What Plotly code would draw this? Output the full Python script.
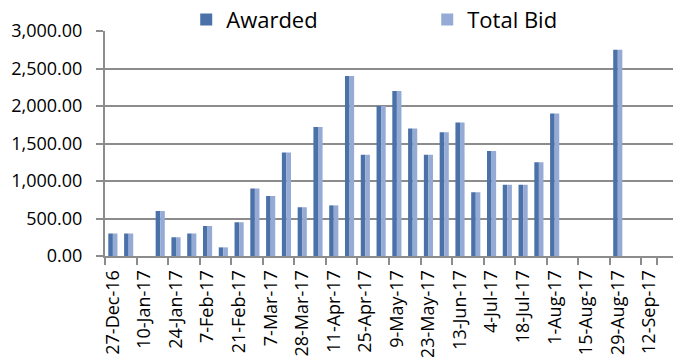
import plotly.graph_objects as go

# Auction dates (category axis) and amounts
dates = [
    "27-Dec-16", "3-Jan-17", "10-Jan-17", "17-Jan-17", "24-Jan-17", "31-Jan-17",
    "7-Feb-17", "14-Feb-17", "21-Feb-17", "28-Feb-17", "7-Mar-17", "14-Mar-17",
    "28-Mar-17", "4-Apr-17", "11-Apr-17", "18-Apr-17", "25-Apr-17", "2-May-17",
    "9-May-17", "16-May-17", "23-May-17", "30-May-17", "13-Jun-17", "20-Jun-17",
    "4-Jul-17", "11-Jul-17", "18-Jul-17", "25-Jul-17", "1-Aug-17", "8-Aug-17",
    "15-Aug-17", "22-Aug-17", "29-Aug-17", "5-Sep-17", "12-Sep-17", "19-Sep-17",
]
awarded = [
    300, 300, None, 600, 250, 300, 400, 115, 450, 900, 800, 1380,
    650, 1720, 675, 2400, 1350, 2000, 2200, 1700, 1350, 1650, 1780, 850,
    1400, 950, 950, 1250, 1900, None, None, None, 2750, None, None, None,
]
total_bid = list(awarded)

shown_ticks = dates[::2]
y_ticks = [0, 500, 1000, 1500, 2000, 2500, 3000]

font = "'Open Sans', sans-serif"
dark = "#4A72A9"
light = "#95ABD5"
grid = "#8C8C8C"

fig = go.Figure()
fig.add_trace(go.Bar(x=dates, y=awarded, name="Awarded",
                     marker=dict(color=dark, line=dict(width=0))))
fig.add_trace(go.Bar(x=dates, y=total_bid, name="Total Bid",
                     marker=dict(color=light, line=dict(width=0))))

fig.update_layout(
    width=685, height=357,
    margin=dict(l=105, r=12, t=31, b=101, autoexpand=False),
    paper_bgcolor="white", plot_bgcolor="white",
    barmode="group", bargap=0.42, bargroupgap=0,
    font=dict(family=font, color="#000000"),
    legend=dict(
        orientation="h", x=0.143, xanchor="left", y=1.05, yanchor="middle",
        font=dict(family=font, size=22, color="#000000"),
        bgcolor="rgba(0,0,0,0)", entrywidth=196, entrywidthmode="pixels",
    ),
    xaxis=dict(
        type="category", categoryorder="array", categoryarray=dates,
        tickmode="array", tickvals=shown_ticks, ticktext=shown_ticks,
        tickangle=-90, tickfont=dict(size=18, family=font, color="#000000"),
        ticklabelstandoff=5,
        showline=True, linecolor=grid, linewidth=2,
        ticks="outside", ticklen=7, tickcolor=grid, tickwidth=2,
        tickson="boundaries", showgrid=False,
        range=[-0.5, len(dates) - 0.5],
    ),
    yaxis=dict(
        range=[0, 3000], tickvals=y_ticks, tickformat=",.2f",
        tickfont=dict(size=18, family=font, color="#000000"),
        ticklabelstandoff=10,
        showgrid=True, gridcolor=grid, gridwidth=2,
        showline=True, linecolor=grid, linewidth=2,
        ticks="outside", ticklen=7, tickcolor=grid, tickwidth=2,
        zeroline=False,
    ),
)

fig.write_html("out.html")
